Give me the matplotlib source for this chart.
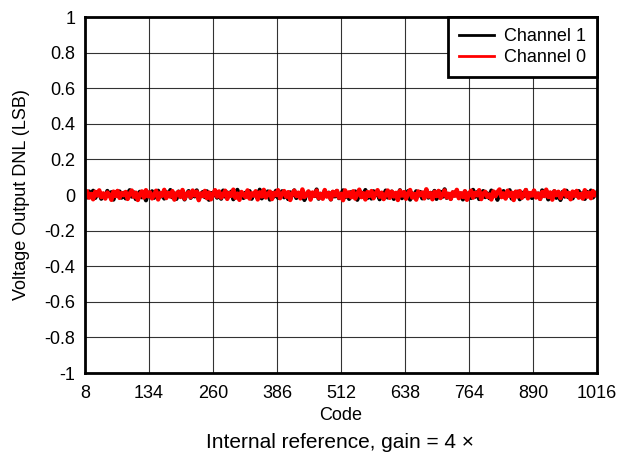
import numpy as np
import matplotlib
matplotlib.use("Agg")
import matplotlib.pyplot as plt

plt.rcParams['font.family'] = ['Liberation Sans', 'DejaVu Sans']

# codes 8..1016, one sample every 4 codes
code_start, code_stop, code_step = 8, 1016, 4

# DNL in milli-LSB
ch1_mlsb = [
    9, -14, 20, -7, 24, -17, 3, 13, -21, 6, -11, 23, -4, 16, -26, 8, -2, 20, -15, 12,
    -19, 5, 27, -9, 15, -23, 2, 18, -13, 10, -30, 14, -5, 21, -16, 4, 24, -10, 7, -20,
    16, -3, 28, -13, 9, -22, 19, -6, 13, -25, 5, 22, -16, 10, -8, 26, -18, 2, 17, -12,
    21, -27, 11, -5, 23, -15, 7, -21, 25, -9, 14, -2, 19, -24, 6, 29, -14, 8, -17, 13,
    -7, 22, -21, 4, 17, -11, 30, -19, 10, -4, 20, -26, 12, -9, 24, -16, 2, 21, -13, 6,
    -23, 15, -2, 26, -17, 9, -10, 21, -28, 5, 18, -13, 11, -6, 31, -21, 7, -15, 22, -3,
    13, -25, 17, -8, 23, -18, 3, 26, -12, 10, -22, 16, -5, 20, -27, 9, 14, -10, 28, -17,
    6, -20, 21, -2, 15, -24, 11, -7, 25, -14, 2, 19, -22, 8, -11, 27, -18, 13, -6, 22,
    -26, 10, -13, 21, -4, 17, -19, 6, 28, -15, 12, -9, 23, -22, 2, 18, -10, 32, -16, 5,
    -21, 14, -2, 24, -13, 7, -25, 20, -6, 11, -17, 29, -10, 16, -23, 4, 22, -12, 9, -18,
    25, -5, 13, -27, 18, -8, 22, -15, 3, 27, -20, 10, -3, 19, -24, 13, -7, 28, -14, 6,
    -17, 23, -11, 8, -22, 26, -2, 15, -25, 12, -6, 21, -16, 10, -28, 17, -9, 24, -13, 6,
    -19, 14, -4, 22, -10, 11, -22, 18, -7, 25, -14, 3, 16,
]
ch0_mlsb = [
    -8, 21, -15, 6, -24, 18, -3, 26, -12, 9, -20, 14, 2, -27, 19, -6, 23, -16, 11, -1,
    17, -22, 8, 25, -10, 13, -28, 5, 20, -14, 27, -7, 15, -19, 3, 24, -25, 10, -4, 29,
    -17, 12, -9, 22, -26, 7, 18, -11, 28, -21, 4, 16, -13, 25, -2, 19, -29, 9, -6, 23,
    -18, 14, -24, 6, 27, -9, 20, -15, 1, 24, -22, 11, -5, 30, -16, 8, -27, 17, 3, -12,
    26, -20, 10, -3, 21, -25, 15, -8, 29, -14, 5, 19, -23, 12, -1, 27, -18, 7, 22, -10,
    16, -28, 9, 24, -6, 13, -19, 31, -11, 2, 20, -26, 14, -4, 25, -17, 6, -21, 28, -9,
    11, -24, 18, -2, 23, -15, 7, -29, 26, -7, 15, -13, 21, -20, 4, 30, -12, 10, -25, 17,
    -5, 22, -18, 8, 27, -10, 13, -23, 3, 25, -16, 19, -8, 12, -28, 24, -3, 16, -21, 9,
    28, -14, 6, -26, 20, -1, 14, -19, 32, -9, 11, -24, 18, -6, 23, -17, 2, 26, -13, 7,
    -22, 15, -4, 29, -18, 10, -11, 21, -27, 5, 24, -15, 12, -2, 27, -23, 8, 18, -10, 3,
    -25, 20, -7, 16, 31, -12, 9, -20, 24, -5, 13, -28, 19, -9, 22, -16, 4, 28, -19, 11,
    -3, 25, -14, 8, -22, 17, -6, 30, -11, 14, -26, 21, -1, 18, -17, 9, 26, -8, 12, -24,
    19, -4, 23, -15, 6, -20, 27, -10, 13, -18, 22, -2, 10,
]

xticks = [8, 134, 260, 386, 512, 638, 764, 890, 1016]
yticks = [-1, -0.8, -0.6, -0.4, -0.2, 0, 0.2, 0.4, 0.6, 0.8, 1]
ytick_labels = ['-1', '-0.8', '-0.6', '-0.4', '-0.2', '0', '0.2', '0.4', '0.6', '0.8', '1']

codes = np.arange(code_start, code_stop + 1, code_step)
ch1 = np.array(ch1_mlsb) / 1000.0
ch0 = np.array(ch0_mlsb) / 1000.0

fig = plt.figure(figsize=(6.18, 4.55), dpi=100)
ax = fig.add_axes([85/618, 82/455, 512/618, 356/455])

ax.plot(codes, ch1, color='black', lw=3.0, label='Channel 1')
ax.plot(codes, ch0, color='#ff0000', lw=3.2, label='Channel 0')

ax.set_xlim(8, 1016)
ax.set_ylim(-1, 1)
ax.set_xticks(xticks)
ax.set_yticks(yticks)
ax.set_yticklabels(ytick_labels)
ax.tick_params(length=0, labelsize=13)
ax.tick_params(axis='x', pad=9)
ax.tick_params(axis='y', pad=7)
ax.grid(True, color='black', lw=0.8, alpha=0.8)
for s in ax.spines.values():
    s.set_linewidth(2)

ax.set_xlabel('Code', fontsize=13, labelpad=3)
ax.set_ylabel('Voltage Output DNL (LSB)', fontsize=13, labelpad=10)

leg = ax.legend(loc='upper right', fontsize=13, fancybox=False, framealpha=1,
                borderaxespad=0, handlelength=1.95, edgecolor='black',
                borderpad=0.6, labelspacing=0.25, handletextpad=0.55)
leg.get_frame().set_linewidth(2)
for line in leg.get_lines():
    line.set_linewidth(2)

fig.text(340/618, 1 - 442/455, 'Internal reference, gain = 4 ×', fontsize=15,
         ha='center', va='center')

fig.savefig('out.png', dpi=100)
